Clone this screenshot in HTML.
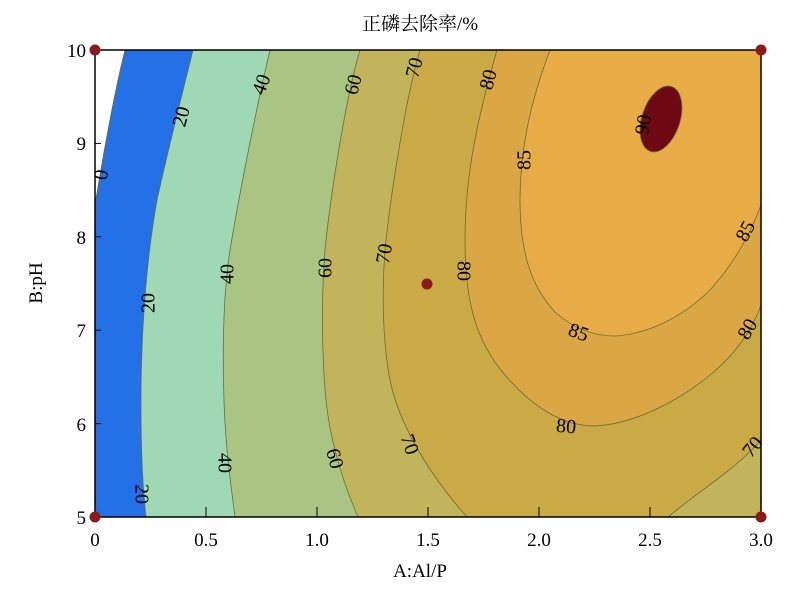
<!DOCTYPE html>
<html><head><meta charset="utf-8"><style>
body{margin:0;background:#fff;}
svg{display:block;font-family:"Liberation Serif","Noto Serif CJK SC",serif;}
</style></head><body>
<svg width="800" height="590" viewBox="0 0 800 590" xmlns="http://www.w3.org/2000/svg">
<defs><clipPath id="c"><rect x="95" y="50" width="666" height="467"/></clipPath></defs>
<g clip-path="url(#c)" stroke="#6b6b3a" stroke-width="0.8">
<rect x="95" y="50" width="666" height="467" fill="#2470e6" stroke="none"/>
<path d="M95,50 L125,50 C115,90 104,150 95,205 Z" fill="#fff"/>
<path d="M193,50 C183,90 168,150 157,200 C148,250 141,320 141,400 C141,460 143,490 146,517 L761,517 L761,50 Z" fill="#9fd8b4"/>
<path d="M270,50 C258,100 240,190 230,250 C224,290 222,340 224,400 C225,440 230,480 235,517 L761,517 L761,50 Z" fill="#aac484"/>
<path d="M360,50 C345,100 330,200 325,250 C321,300 322,360 326,400 C330,440 342,480 358,517 L761,517 L761,50 Z" fill="#c1b45b"/>
<path d="M420,50 C405,100 390,200 385,250 C381,300 384,350 390,380 C398,420 425,470 467,517 L668,517 C700,490 735,470 761,440 L761,50 Z" fill="#c9aa45"/>
<path d="M497,50 C480,110 465,170 465,240 C465,300 475,340 505,375 C535,410 565,426 595,426 C635,424 680,400 710,375 C735,355 752,330 761,305 L761,50 Z" fill="#daa744"/>
<path d="M550,50 C535,90 520,140 520,200 C520,250 530,285 555,312 C575,330 595,336 615,336 C650,334 685,315 710,290 C730,268 748,240 761,205 L761,50 Z" fill="#e8ac46"/>
<ellipse cx="661" cy="119" rx="19" ry="34" transform="rotate(18 661 119)" fill="#6e0a14"/>
</g>
<rect x="95" y="50" width="666" height="467" fill="none" stroke="#000" stroke-width="1.5"/>
<g stroke="#000" stroke-width="1">
<line x1="95" y1="143.4" x2="101" y2="143.4"/><line x1="95" y1="236.8" x2="101" y2="236.8"/><line x1="95" y1="330.2" x2="101" y2="330.2"/><line x1="95" y1="423.6" x2="101" y2="423.6"/>
<line x1="206" y1="517" x2="206" y2="507"/><line x1="317" y1="517" x2="317" y2="507"/><line x1="428" y1="517" x2="428" y2="507"/><line x1="539" y1="517" x2="539" y2="507"/><line x1="650" y1="517" x2="650" y2="507"/>
</g>
<g fill="#8b1a1a"><circle cx="95" cy="50" r="5.5"/><circle cx="761" cy="50" r="5.5"/><circle cx="95" cy="517" r="5.5"/><circle cx="761" cy="517" r="5.5"/><circle cx="427" cy="284" r="5.5"/></g>
<g font-size="19" fill="#000" text-anchor="end">
<text x="86" y="57">10</text><text x="86" y="150">9</text><text x="86" y="244">8</text><text x="86" y="337">7</text><text x="86" y="431">6</text><text x="86" y="524">5</text>
</g>
<g font-size="19" fill="#000" text-anchor="middle">
<text x="95" y="546">0</text><text x="206" y="546">0.5</text><text x="317" y="546">1.0</text><text x="428" y="546">1.5</text><text x="539" y="546">2.0</text><text x="650" y="546">2.5</text><text x="761" y="546">3.0</text>
<text x="420" y="577">A:Al/P</text>
<text x="420" y="30">正磷去除率/%</text>
<text transform="translate(42,283) rotate(-90)">B:pH</text>
</g>
<g font-size="20" fill="#000" text-anchor="middle" dominant-baseline="middle">
<text transform="translate(103,175) rotate(-80)">0</text>
<text transform="translate(183,117) rotate(-75)">20</text>
<text transform="translate(263,85) rotate(-70)">40</text>
<text transform="translate(355,85) rotate(-75)">60</text>
<text transform="translate(416,68) rotate(-75)">70</text>
<text transform="translate(490,80) rotate(-75)">80</text>
<text transform="translate(526,160) rotate(-90)">85</text>
<text transform="translate(645,125) rotate(-80)">90</text>
<text transform="translate(150,303) rotate(-90)">20</text>
<text transform="translate(229,274) rotate(-90)">40</text>
<text transform="translate(327,268) rotate(-90)">60</text>
<text transform="translate(386,254) rotate(-80)">70</text>
<text transform="translate(462,271) rotate(90)">80</text>
<text transform="translate(578,334) rotate(20)">85</text>
<text transform="translate(747,232) rotate(-62)">85</text>
<text transform="translate(566,428) rotate(5)">80</text>
<text transform="translate(749,330) rotate(-60)">80</text>
<text transform="translate(754,448) rotate(-50)">70</text>
<text transform="translate(140,494) rotate(90)">20</text>
<text transform="translate(223,463) rotate(90)">40</text>
<text transform="translate(333,459) rotate(75)">60</text>
<text transform="translate(408,445) rotate(70)">70</text>
</g>
</svg>
</body></html>
